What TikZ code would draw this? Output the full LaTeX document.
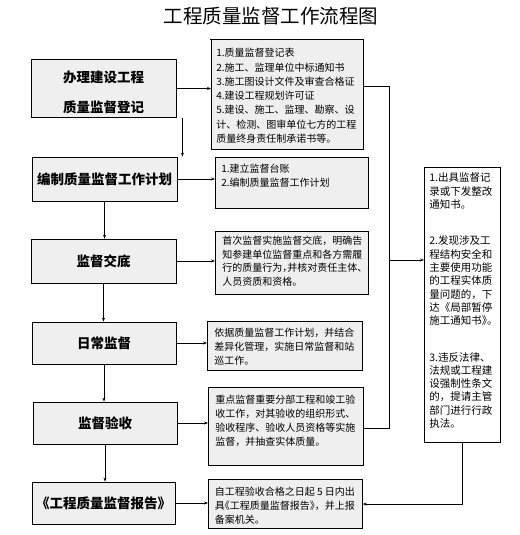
\documentclass[tikz,border=0pt]{standalone}
\usepackage{fontspec}
\setmainfont{Noto Sans CJK SC}
\usetikzlibrary{arrows.meta}
\definecolor{boxgray}{RGB}{239,239,239}
\newcommand\hp[1]{{\addfontfeature{RawFeature=+halt}#1}}
\newcommand\dtxt[5]{\parbox[c][#2][t]{#1}{\fontsize{10}{#4}\selectfont\raggedright\rule{0pt}{#3}#5}}
\begin{document}
\begin{tikzpicture}[x=1pt,y=-1pt,
  lbox/.style={draw, fill=boxgray, line width=0.8pt, inner sep=0pt, align=center,
    font=\bfseries\fontsize{13.5}{16}\selectfont},
  dbox/.style={draw, fill=boxgray, line width=0.8pt, inner ysep=0pt, anchor=north west},
  rbox/.style={draw, fill=white, line width=0.8pt, inner ysep=0pt, inner xsep=5pt, anchor=north west},
  arr/.style={-{Stealth[length=4pt,width=3pt]}, line width=0.7pt},
  ln/.style={line width=0.7pt}]
\useasboundingbox (0,0) rectangle (519,535);

% title
\node[font=\fontsize{19.5}{20}\selectfont, inner sep=0pt] (title) at (271,16) {工程质量监督工作流程图};
\draw[line width=0.7pt] (210,39.3) -- (363,39.3);

% left boxes
\node[lbox, minimum width=145pt, minimum height=58pt] (l1) at (103.5,88.5)
  {\parbox[c][58pt][t]{145pt}{\centering\bfseries\fontsize{13.5}{30}\selectfont\rule{0pt}{23.2pt}办理建设工程\\质量监督登记}};
\node[lbox, minimum width=145pt, minimum height=44pt] (l2) at (104.5,179) {编制质量监督工作计划};
\node[lbox, minimum width=145pt, minimum height=44pt] (l3) at (103.5,261) {监督交底};
\node[lbox, minimum width=144pt, minimum height=42pt] (l4) at (104,343) {日常监督};
\node[lbox, minimum width=144pt, minimum height=42pt] (l5) at (105,423) {监督验收};
\node[lbox, minimum width=143pt, minimum height=42pt] (l6) at (103.5,503) {\hp{《}工程质量监督报告\hp{》}};

% description boxes
\node[dbox, inner xsep=5pt] (d1) at (211,39.3) {\dtxt{142pt}{110pt}{17pt}{14.3pt}{%
1.质量监督登记表\\
2.施工、监理单位中标通知书\\
3.施工图设计文件及审查合格证\\
4.建设工程规划许可证\\
5.建设、施工、监理、勘察、设\\
计、检测、图审单位七方的工程\\
质量终身责任制承诺书等。}};
\node[dbox, inner xsep=6pt] (d2) at (215,157.3) {\dtxt{141pt}{51pt}{14.6pt}{14pt}{%
1.建立监督台账\\
2.编制质量监督工作计划}};
\node[dbox, inner xsep=7pt] (d3) at (215,231) {\dtxt{139pt}{63pt}{13.3pt}{13.5pt}{%
首次监督实施监督交底，明确告\\
知参建单位监督重点和各方需履\\
行的质量行为\hp{，}并核对责任主体\hp{、}\\
人员资质和资格。}};
\node[dbox, inner xsep=7pt] (d4) at (207,320.7) {\dtxt{141pt}{49.3pt}{15.2pt}{14pt}{%
依据质量监督工作计划，并结合\\
差异化管理，实施日常监督和站\\
巡工作。}};
\node[dbox, inner xsep=7pt] (d5) at (208,386.7) {\dtxt{141pt}{78.3pt}{16pt}{14pt}{%
重点监督重要分部工程和竣工验\\
收工作，对其验收的组织形式、\\
验收程序、验收人员资格等实施\\
监督，并抽查实体质量。}};
\node[dbox, inner xsep=6.5pt] (d6) at (208,479.3) {\dtxt{141pt}{48.7pt}{16pt}{13.7pt}{%
自工程验收合格之日起 5 日内出\\
具\hp{《}工程质量监督报告\hp{》}，并上报\\
备案机关。}};

% right box
\node[rbox] (r) at (424,166.7) {\parbox[c][275.5pt][t]{66pt}{\fontsize{10.5}{13.33}\selectfont\raggedright\rule{0pt}{14.6pt}%
1.出具监督记\\
录或下发整改\\
通知书。\\[23pt]
2.发现涉及工\\
程结构安全和\\
主要使用功能\\
的工程实体质\\
量问题的，下\\
达《局部暂停\\
施工通知书\hp{》}\hp{。}\\[23pt]
3.违反法律、\\
法规或工程建\\
设强制性条文\\
的，提请主管\\
部门进行行政\\
执法。}};

% vertical flow arrows
\draw[arr] ([xshift=6pt]l1.south east) coordinate (a1) -- (a1 |- l2.north);
\draw[arr] (l2.south) -- (l2.south |- l3.north);
\draw[arr] (l3.south) -- (l3.south |- l4.north);
\draw[arr] (l4.south) -- (l4.south |- l5.north);
\draw[arr] (l5.south) -- (l5.south |- l6.north);

% horizontal arrows
\draw[arr] (l1.east) -- (l1.east -| d1.west);
\draw[arr] (l2.east) -- (l2.east -| d2.west);
\draw[arr] (l3.east) -- (l3.east -| d3.west);
\draw[arr] (l4.east) -- (l4.east -| d4.west);
\draw[arr] (l5.east) -- (l5.east -| d5.west);
\draw[arr] (l6.east) -- (l6.east -| d6.west);

% right side connectors
\coordinate (j1) at (389,86);
\coordinate (j2) at (389,428);
\coordinate (jm) at (389,260);
\draw[ln] (d1.east |- j1) -- (j1) -- (j2) -- (d5.east |- j2);
\draw[arr] (jm) -- (jm -| r.west);
\draw[arr] (r.south) -- (r.south |- d6.east) -- (d6.east);
\end{tikzpicture}
\end{document}
